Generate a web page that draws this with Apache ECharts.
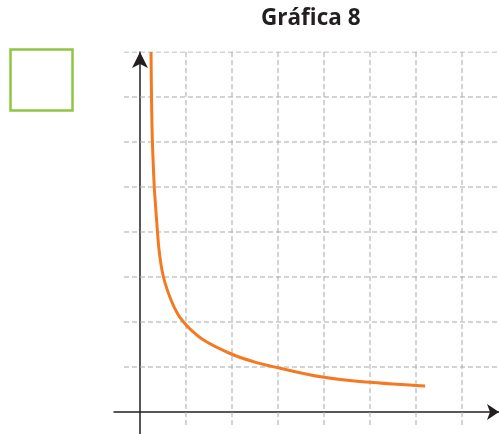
<!DOCTYPE html>
<html>
<head>
<meta charset="utf-8">
<script src="https://cdn.jsdelivr.net/npm/echarts@6/dist/echarts.min.js"></script>
<style>
html,body{margin:0;padding:0;background:#fff;}
#chart{width:499px;height:434px;}
</style>
</head>
<body>
<div id="chart"></div>
<script>
// ---- data ----
var titleText = 'Gráfica 8';
var gridXValues = [1, 2, 3, 4, 5, 6, 7];
var gridYValues = [1, 2, 3, 4, 5, 6, 7, 8];
var curveX = [0.24, 0.25, 0.27, 0.31, 0.33, 0.38, 0.42, 0.51, 0.67, 0.83, 0.98, 1.09, 1.38, 1.96, 2.46, 2.97, 4.0, 5.0, 6.0, 6.2];
var curveY = [8.0, 7.0, 6.0, 5.0, 4.7, 4.0, 3.55, 3.0, 2.5, 2.16, 1.96, 1.84, 1.6, 1.3, 1.12, 0.99, 0.77, 0.66, 0.59, 0.58];

// ---- axis extents (data units) ----
var xMin = -0.5652, xMax = 7.8043;
var yMin = -0.4889, yMax = 8;
var hLineStart = -0.348;   // where horizontal dashed lines begin
var vLineBottom = -0.289;  // where vertical dashed lines end

var gridStyle = { color: '#a7a9ac', width: 1, type: [5, 3] };

var series = [];
gridXValues.forEach(function (x) {
  series.push({
    type: 'line', silent: true, symbol: 'none', animation: false, z: 1,
    lineStyle: gridStyle,
    data: [[x, vLineBottom], [x, yMax]]
  });
});
gridYValues.forEach(function (y) {
  series.push({
    type: 'line', silent: true, symbol: 'none', animation: false, z: 1,
    lineStyle: gridStyle,
    data: [[hLineStart, y], [xMax, y]]
  });
});
series.push({
  type: 'line', symbol: 'none', animation: false, z: 5,
  smooth: 0.4,
  lineStyle: { color: '#f47920', width: 3 },
  data: curveX.map(function (x, i) { return [x, curveY[i]]; })
});

var chart = echarts.init(document.getElementById('chart'));
chart.setOption({
  backgroundColor: '#ffffff',
  animation: false,
  title: {
    text: titleText,
    left: 261, top: 7, padding: 0,
    textStyle: { fontFamily: 'Open Sans', fontWeight: 'bold', fontSize: 22.5, color: '#231f20' }
  },
  graphic: [{
    type: 'rect',
    shape: { x: 10.5, y: 49.5, width: 62, height: 61 },
    style: { fill: 'none', stroke: '#8dc63f', lineWidth: 2.5 }
  }],
  grid: { left: 114, right: 0, top: 52, bottom: 0, containLabel: false },
  xAxis: {
    type: 'value', min: xMin, max: xMax,
    axisLine: { show: true, onZero: true, symbol: ['none', 'arrow'], symbolSize: [12, 12],
      lineStyle: { color: '#231f20', width: 1.5 } },
    axisTick: { show: false }, axisLabel: { show: false }, splitLine: { show: false }
  },
  yAxis: {
    type: 'value', min: yMin, max: yMax,
    axisLine: { show: true, onZero: true, symbol: ['none', 'arrow'], symbolSize: [12, 16],
      lineStyle: { color: '#231f20', width: 1.5 } },
    axisTick: { show: false }, axisLabel: { show: false }, splitLine: { show: false }
  },
  series: series
});
</script>
</body>
</html>
